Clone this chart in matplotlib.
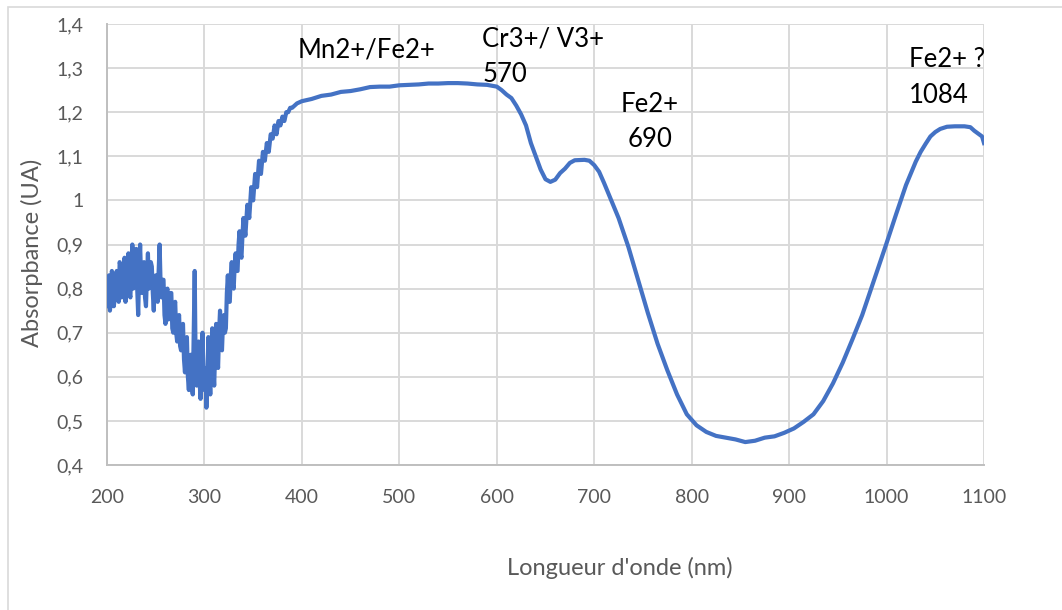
import numpy as np
import matplotlib
matplotlib.use("Agg")
import matplotlib.pyplot as plt
from matplotlib.patches import Rectangle

# --------------------------------------------------------------------------
# Data (wavelength in nm, absorbance in UA)
# --------------------------------------------------------------------------

# noisy UV part, 1 nm step (200-340 nm)
wl_uv = list(range(200, 341))
abs_uv = [0.76, 0.80, 0.83, 0.75, 0.77, 0.84, 0.82, 0.76, 0.78, 0.83,
          0.84, 0.79, 0.77, 0.86, 0.85, 0.78, 0.79, 0.84, 0.87, 0.77,
          0.80, 0.86, 0.88, 0.79, 0.78, 0.85, 0.90, 0.80, 0.82, 0.86,
          0.89, 0.80, 0.74, 0.84, 0.90, 0.82, 0.79, 0.85, 0.86, 0.78,
          0.76, 0.83, 0.88, 0.80, 0.81, 0.86, 0.85, 0.79, 0.75, 0.82,
          0.83, 0.78, 0.77, 0.84, 0.90, 0.81, 0.78, 0.82, 0.82, 0.74,
          0.72, 0.79, 0.80, 0.73, 0.74, 0.79, 0.79, 0.71, 0.70, 0.76,
          0.77, 0.70, 0.68, 0.73, 0.74, 0.67, 0.66, 0.71, 0.72, 0.64,
          0.61, 0.67, 0.69, 0.60, 0.57, 0.64, 0.65, 0.58, 0.56, 0.70,
          0.84, 0.62, 0.58, 0.64, 0.68, 0.59, 0.55, 0.63, 0.70, 0.60,
          0.57, 0.62, 0.53, 0.60, 0.69, 0.61, 0.56, 0.64, 0.71, 0.62,
          0.58, 0.66, 0.72, 0.65, 0.62, 0.70, 0.75, 0.68, 0.66, 0.72,
          0.74, 0.70, 0.71, 0.79, 0.83, 0.77, 0.77, 0.83, 0.86, 0.81,
          0.80, 0.85, 0.88, 0.84, 0.84, 0.90, 0.93, 0.88, 0.87, 0.92,
          0.96]

# rising edge, 2 nm step (342-390 nm)
wl_rise = list(range(342, 392, 2))
abs_rise = [0.92, 0.99, 0.96, 1.03, 1.00, 1.06, 1.03, 1.09, 1.06, 1.11,
            1.09, 1.13, 1.11, 1.15, 1.14, 1.17, 1.15, 1.18, 1.17, 1.19,
            1.18, 1.20, 1.20, 1.21, 1.21]

# smooth visible / NIR part
wl_vis = [395, 400, 410, 420, 430, 440, 450, 460, 470, 480, 490, 500,
          510, 520, 530, 540, 550, 560, 570, 580, 590, 600, 605, 610,
          615, 620, 625, 630, 635, 640, 645, 650, 655, 660, 665, 670,
          675, 680, 690, 695, 700, 705, 710, 716, 725, 735, 745, 755,
          765, 775, 785, 795, 805, 815, 825, 835, 845, 855, 865, 875,
          885, 895, 905, 915, 925, 935, 945, 955, 965, 975, 985, 992,
          1000, 1010, 1020, 1030, 1035, 1040, 1045, 1050, 1055, 1062,
          1070, 1080, 1086, 1090, 1095, 1098, 1100]
abs_vis = [1.220, 1.225, 1.230, 1.237, 1.240, 1.246, 1.248, 1.252, 1.257,
           1.258, 1.258, 1.261, 1.262, 1.263, 1.265, 1.265, 1.266, 1.266,
           1.265, 1.263, 1.262, 1.258, 1.250, 1.240, 1.232, 1.215, 1.195,
           1.170, 1.130, 1.100, 1.070, 1.048, 1.042, 1.047, 1.062, 1.072,
           1.085, 1.091, 1.092, 1.090, 1.080, 1.065, 1.040, 1.008, 0.960,
           0.895, 0.820, 0.745, 0.675, 0.615, 0.560, 0.515, 0.490, 0.475,
           0.466, 0.462, 0.458, 0.452, 0.455, 0.462, 0.465, 0.473, 0.483,
           0.498, 0.515, 0.545, 0.585, 0.632, 0.685, 0.740, 0.805, 0.850,
           0.903, 0.970, 1.035, 1.088, 1.110, 1.128, 1.145, 1.155, 1.162,
           1.167, 1.168, 1.168, 1.166, 1.158, 1.150, 1.145, 1.130]

x_ticks = [200, 300, 400, 500, 600, 700, 800, 900, 1000, 1100]
y_ticks = [0.4, 0.5, 0.6, 0.7, 0.8, 0.9, 1.0, 1.1, 1.2, 1.3, 1.4]
y_tick_labels = ["0,4", "0,5", "0,6", "0,7", "0,8", "0,9", "1",
                 "1,1", "1,2", "1,3", "1,4"]

# band assignments: (text, x in nm, y in UA, alignment)
notes = [
    ("Mn2+/Fe2+", 396, 1.325, "left"),
    ("Cr3+/ V3+", 585, 1.348, "left"),
    ("570", 585, 1.268, "left"),
    ("Fe2+", 757, 1.200, "center"),
    ("690", 757, 1.121, "center"),
    ("Fe2+ ?", 1023, 1.302, "left"),
    ("1084", 1023, 1.221, "left"),
]

# --------------------------------------------------------------------------
# Plot
# --------------------------------------------------------------------------

plt.rcParams["font.family"] = ["Lato", "DejaVu Sans"]

W, H = 1062, 610
fig = plt.figure(figsize=(W / 100, H / 100), dpi=100)

# chart frame (light border, cropped on right/bottom)
fig.patches.append(Rectangle((8 / W, -0.1), 1.2, 1 - 7 / H + 0.1,
                             transform=fig.transFigure, fill=False,
                             edgecolor="#D9D9D9", linewidth=1.2))

ax = fig.add_axes([107 / W, 1 - 465 / H, 877 / W, 441 / H])

wl = np.array(wl_uv + wl_rise + wl_vis)
absb = np.array(abs_uv + abs_rise + abs_vis)
ax.plot(wl, absb, color="#4472C4", linewidth=3.0, solid_joinstyle="round",
        zorder=3)

ax.set_xlim(200, 1100)
ax.set_ylim(0.4, 1.4)
ax.set_xticks(x_ticks)
ax.set_yticks(y_ticks)
ax.set_yticklabels(y_tick_labels)
ax.grid(True, color="#D9D9D9", linewidth=1.4)
ax.set_axisbelow(True)

for side in ("top", "right"):
    ax.spines[side].set_visible(False)
for side in ("left", "bottom"):
    ax.spines[side].set_color("#BFBFBF")
    ax.spines[side].set_linewidth(1.4)

ax.tick_params(length=0, labelsize=14, labelcolor="#595959")
ax.tick_params(axis="x", pad=17)
ax.tick_params(axis="y", pad=17)

ax.set_xlabel("Longueur d'onde (nm)", fontsize=17, color="#595959",
              va="center")
ax.xaxis.set_label_coords((620 - 107) / 877, (465 - 568) / 441)
ax.set_ylabel("Absorpbance (UA)", fontsize=17, color="#595959",
              va="center")
ax.yaxis.set_label_coords((32 - 107) / 877, (465 - 253) / 441)

for txt, xv, yv, ha in notes:
    ax.text(xv, yv, txt, ha=ha, va="baseline", fontsize=18.5,
            color="black", clip_on=False, zorder=4)

fig.savefig("out.png", dpi=100)
